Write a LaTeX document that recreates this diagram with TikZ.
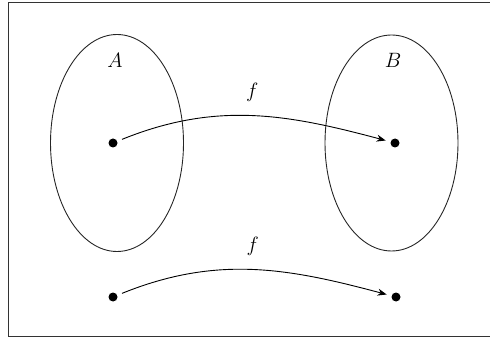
\documentclass[tikz,border=0pt]{standalone}
\usetikzlibrary{arrows.meta}
\begin{document}
\begin{tikzpicture}[x=1pt,y=-1pt,
  setline/.style={line width=0.9pt, draw=black!85},
  pt/.style={circle, fill=black, inner sep=0pt, minimum size=9pt},
  lbl/.style={font=\fontsize{22}{26}\selectfont},
  maparrow/.style={line width=0.9pt, -{Stealth[length=9pt,width=7pt]}, shorten <=5pt, shorten >=5pt}]
\useasboundingbox (0,0) rectangle (490,339);
\begin{scope}
\clip (0,0) rectangle (490,339);
\draw[line width=1pt, draw=black!80] (8,2.5) rectangle (495,336.5) coordinate (frame);
\end{scope}
\draw[setline] (117,143) ellipse [x radius=66.5, y radius=108.5];
\draw[setline] (391.5,143) ellipse [x radius=66.5, y radius=108];
\node[lbl] (A) at (115,60) {$A$};
\node[lbl] (B) at (393,60) {$B$};
\node[pt] (a) at (113,143) {};
\node[pt] (b) at (395,143) {};
\node[pt] (c) at (113,297) {};
\node[pt] (d) at (396,297) {};
\draw[maparrow] (a) to[out=22, in=165] node[lbl, pos=0.5, above=11pt] (f1) {$f$} (b);
\draw[maparrow] (c) to[out=22, in=165] node[lbl, pos=0.5, above=11pt] (f2) {$f$} (d);
\end{tikzpicture}
\end{document}
